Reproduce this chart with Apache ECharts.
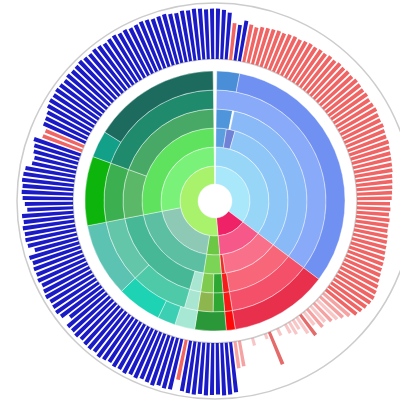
<!DOCTYPE html>
<html>
<head>
<meta charset="utf-8">
<script src="https://cdn.jsdelivr.net/npm/echarts@6/dist/echarts.min.js"></script>
<style>
  html, body { margin: 0; padding: 0; background: #fff; }
  #main { width: 400px; height: 401px; }
</style>
</head>
<body>
<div id="main"></div>
<script>
// outer ring: 200 bars, clockwise from 12 o'clock, split in quarters
var q1Values = [90, 88, 84, 66, 64, 73, 68, 65, 68, 69, 70, 71, 70, 72, 73, 72, 74, 75, 74, 76,
	75, 77, 76, 78, 77, 78, 77, 79, 78, 77, 78, 76, 77, 78, 76, 75, 76, 74, 73, 74,
	72, 71, 70, 69, 68, 66, 65, 64, 63, 62];
var q2Values = [59, 60, 58, 60, 59, 59, 61, 62, 63, 64, 66, 67, 68, 70, 72, 75, 77, 79, 78, 76,
	73, 70, 62, 55, 50, 45, 38, 42, 30, 46, 35, 20, 25, 18, 0, 14, 0, 62, 10, 0,
	0, 14, 0, 0, 46, 48, 90, 93, 94, 92];
var q3Values = [93, 94, 92, 94, 93, 91, 72, 92, 93, 91, 94, 92, 90, 93, 91, 94, 92, 93, 90, 92,
	94, 91, 93, 92, 90, 93, 91, 92, 78, 90, 93, 92, 91, 94, 92, 90, 93, 91, 92, 90,
	93, 80, 90, 92, 91, 93, 90, 92, 82, 86];
var q4Values = [90, 92, 91, 93, 92, 90, 80, 78, 82, 84, 88, 75, 74, 82, 83, 85, 90, 92, 91, 93,
	92, 90, 93, 91, 92, 94, 92, 91, 93, 92, 90, 92, 93, 91, 92, 90, 91, 93, 92, 90,
	91, 92, 90, 89, 91, 90, 92, 91, 89, 90];
// b = blue, r = red, d = dimmed red, l = light red, p = pale red
var q1Kinds = "bbbrbbrrrrrrrrrrrrrrrrrrrrrrrrrrrrrrrrrrrrrrrrrrrr";
var q2Kinds = "rrrrrrrrrrrrrrrrrrrrrr" + "llplplpdpppppppdppppppll" + "bbbb";
var q3Kinds = "bbbbbbrbbbbbbbbbbbbbbbbbbbbbbbbbbbbbbbbbbbbbbbbbbb";
var q4Kinds = "bbbbbbbbbbbrrbbbbbbbbbbbbbbbbbbbbbbbbbbbbbbbbbbbbb";

// inner rings: angle spans in degrees, inner ring first
var ring1Spans = [0.8, 126.2, 48, 184.2, 0.8];
var ring2Spans = [0.8, 126.2, 48, 14, 70, 100.2, 0.8];
var ring3Spans = [0.8, 8.2, 7, 111, 45, 3, 14, 70, 100.2, 0.8];
var ring4Spans = [0.8, 10.2, 1, 115, 44, 4, 6, 8, 7, 63, 31, 69.2, 0.8];
var ring5Spans = [0.8, 126.2, 44, 4, 6, 8, 7, 30, 33, 31, 69.2, 0.8];
var ring6Spans = [0.8, 10.2, 116, 44, 4, 14, 9, 8, 20, 33, 31, 12, 57.2, 0.8];

var ring1Colors = ['transparent', '#a8e8fa', '#ef2268', '#a8f26c', 'transparent'];
var ring2Colors = ['transparent', '#98d6f8', '#f7588a', '#6cc844', '#8ec9b6', '#7af27a', 'transparent'];
var ring3Colors = ['transparent', '#5a9ee0', '#6f82d6', '#8ec6f8', '#f8708a', '#f02a2a', '#7cd456', '#5cbfa2', '#5fe35f', 'transparent'];
var ring4Colors = ['transparent', '#4e95dc', '#ffffff', '#8ab9f8', '#f8667a', '#f51c1c', '#2ea832', '#7ecb4f', '#a8e6d2', '#46b895', '#5ab868', '#48a866', 'transparent'];
var ring5Colors = ['transparent', '#88aaf8', '#f4506a', '#f81818', '#2ea832', '#8db64e', '#a8e6d2', '#4fcaa9', '#63c6a8', '#3cb050', '#1f8a6c', 'transparent'];
var ring6Colors = ['transparent', '#4a8ed8', '#7090f2', '#e8304c', '#ff0a0a', '#2a9838', '#a6e8d4', '#3ccfb4', '#1ed3b4', '#5cc2b2', '#0cb40c', '#12a088', '#1d6b5f', 'transparent'];

var center = [215, 201];
var ringRadii = [[17, 35], [35, 54], [54, 73], [73, 92], [92, 111], [111, 130]];

var kindColor = { b: '#1a1ac6', r: '#f06464', d: '#e05050', l: '#f07070', p: '#f08080' };
var kindOpacity = { b: 1, r: 1, d: 0.85, l: 0.65, p: 0.45 };

var barValues = q1Values.concat(q2Values, q3Values, q4Values);
var barKinds = (q1Kinds + q2Kinds + q3Kinds + q4Kinds).split('');
var categories = [];
var barData = [];
for (var i = 0; i < barValues.length; i++) {
	categories.push(String(i + 1));
	barData.push({
		value: barValues[i],
		itemStyle: { color: kindColor[barKinds[i]], opacity: kindOpacity[barKinds[i]] }
	});
}

// one pie per ring, slices sized by angle
function ringSeries(spans, colors, radius) {
	var data = [];
	for (var k = 0; k < spans.length; k++) {
		data.push({ value: spans[k], itemStyle: { color: colors[k] } });
	}
	return {
		type: 'pie',
		center: center,
		radius: radius,
		startAngle: 90,
		clockwise: true,
		silent: true,
		avoidLabelOverlap: false,
		label: { show: false },
		labelLine: { show: false },
		itemStyle: { borderColor: 'rgba(255,255,255,0.4)', borderWidth: 1 },
		data: data
	};
}

var chart = echarts.init(document.getElementById('main'));
var ringSpans = [ring1Spans, ring2Spans, ring3Spans, ring4Spans, ring5Spans, ring6Spans];
var ringColors = [ring1Colors, ring2Colors, ring3Colors, ring4Colors, ring5Colors, ring6Colors];

var series = [{
	type: 'bar',
	coordinateSystem: 'polar',
	barCategoryGap: '32%',
	silent: true,
	data: barData
}];
for (var r = 0; r < 6; r++) {
	series.push(ringSeries(ringSpans[r], ringColors[r], ringRadii[r]));
}

chart.setOption({
	animation: false,
	polar: { center: center, radius: [142, 198] },
	angleAxis: {
		type: 'category',
		data: categories,
		startAngle: 90,
		clockwise: true,
		axisLine: { show: true, lineStyle: { color: '#cccccc', width: 1.5 } },
		axisTick: { show: false },
		axisLabel: { show: false },
		splitLine: { show: false }
	},
	radiusAxis: {
		type: 'value',
		min: 0,
		max: 100,
		axisLine: { show: false },
		axisTick: { show: false },
		axisLabel: { show: false },
		splitLine: { show: false }
	},
	series: series
});
</script>
</body>
</html>
